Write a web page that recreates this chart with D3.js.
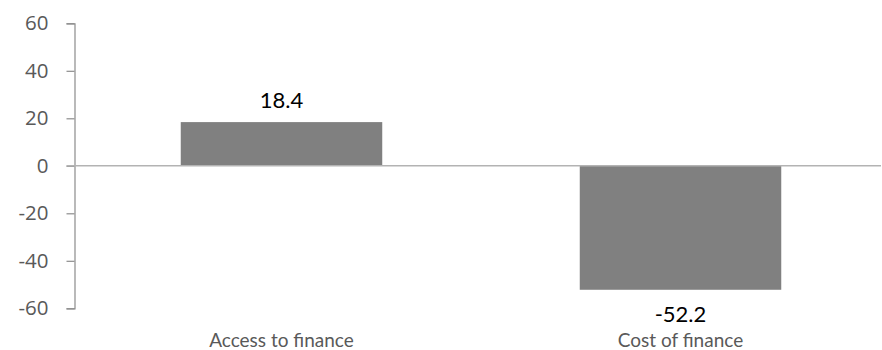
<!DOCTYPE html>
<html>
<head>
<meta charset="utf-8">
<script src="https://cdn.jsdelivr.net/npm/d3@7"></script>
<style>
  html, body { margin: 0; padding: 0; background: #fff; }
  svg { display: block; }
</style>
</head>
<body>
<svg id="chart" width="882" height="350"></svg>
<script>
const categories = ["Access to finance", "Cost of finance"];
const values = [18.4, -52.2];
const valueLabels = ["18.4", "-52.2"];
const yTicks = [-60, -40, -20, 0, 20, 40, 60];

const svg = d3.select("#chart");
const axisX = 74.5;

const y = d3.scaleLinear().domain([-60, 60]).range([308.3, 23.3]);
const x = d3.scaleBand().domain(categories).range([81, 881]).paddingInner(0.495).paddingOuter(0.25);

// y axis
const yAxis = d3.axisLeft(y).tickValues(yTicks).tickSize(8).tickPadding(18).tickFormat(d => String(d));
const gy = svg.append("g").attr("transform", `translate(${axisX},0)`).call(yAxis);
gy.select(".domain").attr("stroke", "#8c8c8c").attr("stroke-width", 1.2);
gy.selectAll(".tick line").attr("stroke", "#8c8c8c").attr("stroke-width", 1.2);
gy.selectAll(".tick text")
  .attr("fill", "#595959")
  .style("font-family", "'Open Sans', sans-serif")
  .style("font-size", "20.5px");

// bars
svg.append("g").selectAll("rect").data(values).join("rect")
  .attr("x", (d, i) => x(categories[i]))
  .attr("width", x.bandwidth())
  .attr("y", d => y(Math.max(0, d)))
  .attr("height", d => Math.abs(y(d) - y(0)))
  .attr("fill", "#808080");

// zero line
svg.append("line")
  .attr("x1", axisX - 8).attr("x2", 881)
  .attr("y1", y(0)).attr("y2", y(0))
  .attr("stroke", "#b3b3b3").attr("stroke-width", 1.5);

// value labels
svg.append("g").selectAll("text").data(values).join("text")
  .attr("x", (d, i) => x(categories[i]) + x.bandwidth() / 2)
  .attr("y", d => d >= 0 ? y(d) - 14 : y(d) + 32)
  .attr("text-anchor", "middle")
  .attr("fill", "#000")
  .style("font-family", "Lato, sans-serif")
  .style("font-size", "22px")
  .text((d, i) => valueLabels[i]);

// category labels
svg.append("g").selectAll("text").data(categories).join("text")
  .attr("x", d => x(d) + x.bandwidth() / 2)
  .attr("y", 347)
  .attr("text-anchor", "middle")
  .attr("fill", "#595959")
  .style("font-family", "Lato, sans-serif")
  .style("font-size", "19px")
  .text(d => d);
</script>
</body>
</html>
